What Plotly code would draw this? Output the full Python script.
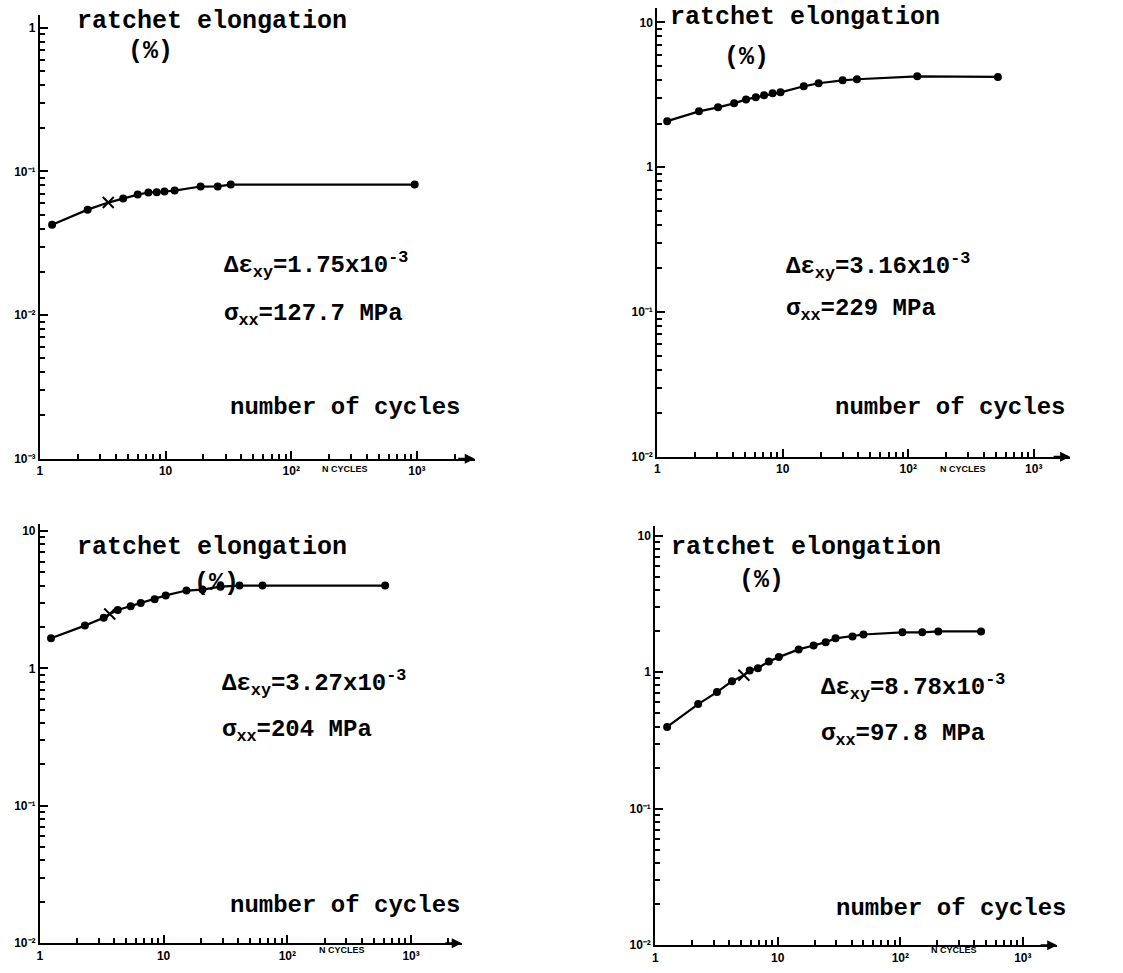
import plotly.graph_objects as go

W, H = 1123, 973

# ---------------- data ----------------
n1 = [1.25, 2.4, 3.5, 4.6, 6.0, 7.3, 8.5, 9.8, 11.8, 19, 26, 33, 960]
e1 = [0.0426, 0.0542, 0.0607, 0.0647, 0.069, 0.0713, 0.0716, 0.0725, 0.0736, 0.0785, 0.0787, 0.081, 0.081]
x1_idx = 2

n2 = [1.2, 2.15, 3.05, 4.1, 5.1, 6.1, 7.1, 8.3, 9.6, 14.7, 19.3, 30, 39, 118, 518]
e2 = [2.08, 2.43, 2.59, 2.76, 2.94, 3.04, 3.14, 3.24, 3.29, 3.62, 3.80, 3.98, 4.05, 4.24, 4.20]
x2_idx = None

n3 = [1.23, 2.31, 3.28, 3.67, 4.26, 5.42, 6.53, 8.46, 10.4, 15.3, 20.6, 28.8, 41, 63, 617]
e3 = [1.66, 2.05, 2.34, 2.49, 2.66, 2.84, 2.99, 3.19, 3.40, 3.69, 3.75, 3.94, 4.01, 4.01, 4.01]
x3_idx = 3

n4 = [1.25, 2.24, 3.19, 4.23, 5.29, 5.9, 6.88, 8.45, 10.2, 14.8, 19.6, 24.6, 29.6, 40.7, 50, 104, 151, 204, 456]
e4 = [0.397, 0.584, 0.715, 0.860, 0.95, 1.03, 1.07, 1.20, 1.29, 1.47, 1.57, 1.66, 1.77, 1.83, 1.89, 1.96, 1.96, 1.99, 1.99]
x4_idx = 4

labels = [
    ("1.75", "127.7"),
    ("3.16", "229"),
    ("3.27", "204"),
    ("8.78", "97.8"),
]

x_tickvals = [1, 10, 100, 1000]
x_ticktext = ["1", "10", "10²", "10³"]
y_ticks = [
    ([0.001, 0.01, 0.1, 1], ["10⁻³", "10⁻²", "10⁻¹", "1"]),
    ([0.01, 0.1, 1, 10], ["10⁻²", "10⁻¹", "1", "10"]),
    ([0.01, 0.1, 1, 10], ["10⁻²", "10⁻¹", "1", "10"]),
    ([0.01, 0.1, 1, 10], ["10⁻²", "10⁻¹", "1", "10"]),
]

# ---------------- layout geometry (pixels) ----------------
# (x_left, x_right, y_top, y_bottom, xrange_max, yrange)
panels = [
    (37, 473, 15, 462, 3.46, [-3, 0.09]),
    (656, 1070, 8, 460, 3.29, [-2, 1.1]),
    (37, 460, 528, 950, 3.41, [-2, 1.05]),
    (654, 1057, 530, 952, 3.28, [-2, 1.07]),
]

def px(x):
    return x / W

def py(y):
    return 1 - y / H

fig = go.Figure()
series = [(n1, e1, x1_idx), (n2, e2, x2_idx), (n3, e3, x3_idx), (n4, e4, x4_idx)]

def minor_vals(lo, hi):
    vals = []
    d = lo
    while d < hi:
        for k in range(2, 10):
            vals.append(k * 10 ** d)
        d += 1
    return vals

tickfont = dict(family="Liberation Sans", size=12, color="black", weight="bold")

for i, ((n, e, xi), (xl, xr, yt, yb, xmax, yr)) in enumerate(zip(series, panels)):
    k = "" if i == 0 else str(i + 1)
    xa, ya = "x" + k, "y" + k
    sym = ["circle"] * len(n)
    size = [6] * len(n)
    if xi is not None:
        sym[xi] = "x-thin-open"
        size[xi] = 11
    fig.add_trace(go.Scatter(
        x=n, y=e, xaxis=xa, yaxis=ya, mode="lines+markers",
        line=dict(color="black", width=2.2),
        marker=dict(color="black", size=size, symbol=sym, opacity=1,
                    line=dict(color="black", width=2)),
        showlegend=False, hoverinfo="skip"))

    yv, yt_text = y_ticks[i]
    fig.update_layout(**{
        "xaxis" + k: dict(
            domain=[px(xl), px(xr)], anchor=ya, type="log", range=[0, xmax],
            showline=True, linecolor="black", linewidth=2, showgrid=False,
            zeroline=False, ticks="inside", ticklen=8, tickwidth=2, tickcolor="black",
            tickvals=x_tickvals, ticktext=x_ticktext, tickfont=tickfont,
            minor=dict(tickvals=minor_vals(0, int(xmax) + 1), ticks="inside",
                       ticklen=5, tickwidth=2, tickcolor="black", showgrid=False),
        ),
        "yaxis" + k: dict(
            domain=[py(yb), py(yt)], anchor=xa, type="log", range=yr,
            showline=True, linecolor="black", linewidth=2, showgrid=False,
            zeroline=False, ticks="inside", ticklen=8, tickwidth=2, tickcolor="black",
            tickvals=yv, ticktext=yt_text, tickfont=tickfont,
            minor=dict(tickvals=minor_vals(int(yr[0]), int(yr[1]) + 1), ticks="inside",
                       ticklen=5, tickwidth=2, tickcolor="black", showgrid=False),
        ),
    })

    # arrow at end of x axis
    fig.add_annotation(x=xmax, y=yr[0], xref=xa, yref=ya, ax=-18, ay=0,
                       text="", showarrow=True, arrowhead=2, arrowsize=1,
                       arrowwidth=2, arrowcolor="black")

# ---------------- texts ----------------
mono = dict(family="Liberation Mono", size=24, color="black", weight="bold")
mono_big = dict(family="Liberation Mono", size=25, color="black", weight="bold")
small = dict(family="Liberation Sans", size=9, color="black", weight="bold")

text_pos = [
    # ratchet, (%), delta, sigma, number, Ncycles
    ((72, 22), (123, 52), (220, 267), (220, 317), (226, 410), (318, 472)),
    ((667, 18), (721, 58), (783, 268), (783, 312), (832, 410), (938, 472)),
    ((72, 551), (190, 588), (218, 688), (218, 736), (226, 912), (315, 957)),
    ((668, 551), (736, 585), (818, 692), (818, 740), (833, 915), (928, 957)),
]

for (de, sg), tp in zip(labels, text_pos):
    (rx, ry), (px_, py_), (dx, dy), (sx, sy), (nx, ny), (cx, cy) = tp
    items = [
        ("ratchet elongation", rx, ry, mono_big),
        ("(%)", px_, py_, mono_big),
        ("Δε<sub>xy</sub>=" + de + "x10<sup>-3</sup>", dx, dy, mono),
        ("σ<sub>xx</sub>=" + sg + " MPa", sx, sy, mono),
        ("number of cycles", nx, ny, mono),
        ("N CYCLES", cx, cy, small),
    ]
    for txt, x, y, f in items:
        fig.add_annotation(x=px(x), y=py(y), xref="paper", yref="paper",
                           text=txt, showarrow=False, xanchor="left",
                           yanchor="middle", font=f)

fig.update_layout(
    width=W, height=H, margin=dict(l=0, r=0, t=0, b=0),
    paper_bgcolor="white", plot_bgcolor="white",
)

fig.write_html("out.html")
